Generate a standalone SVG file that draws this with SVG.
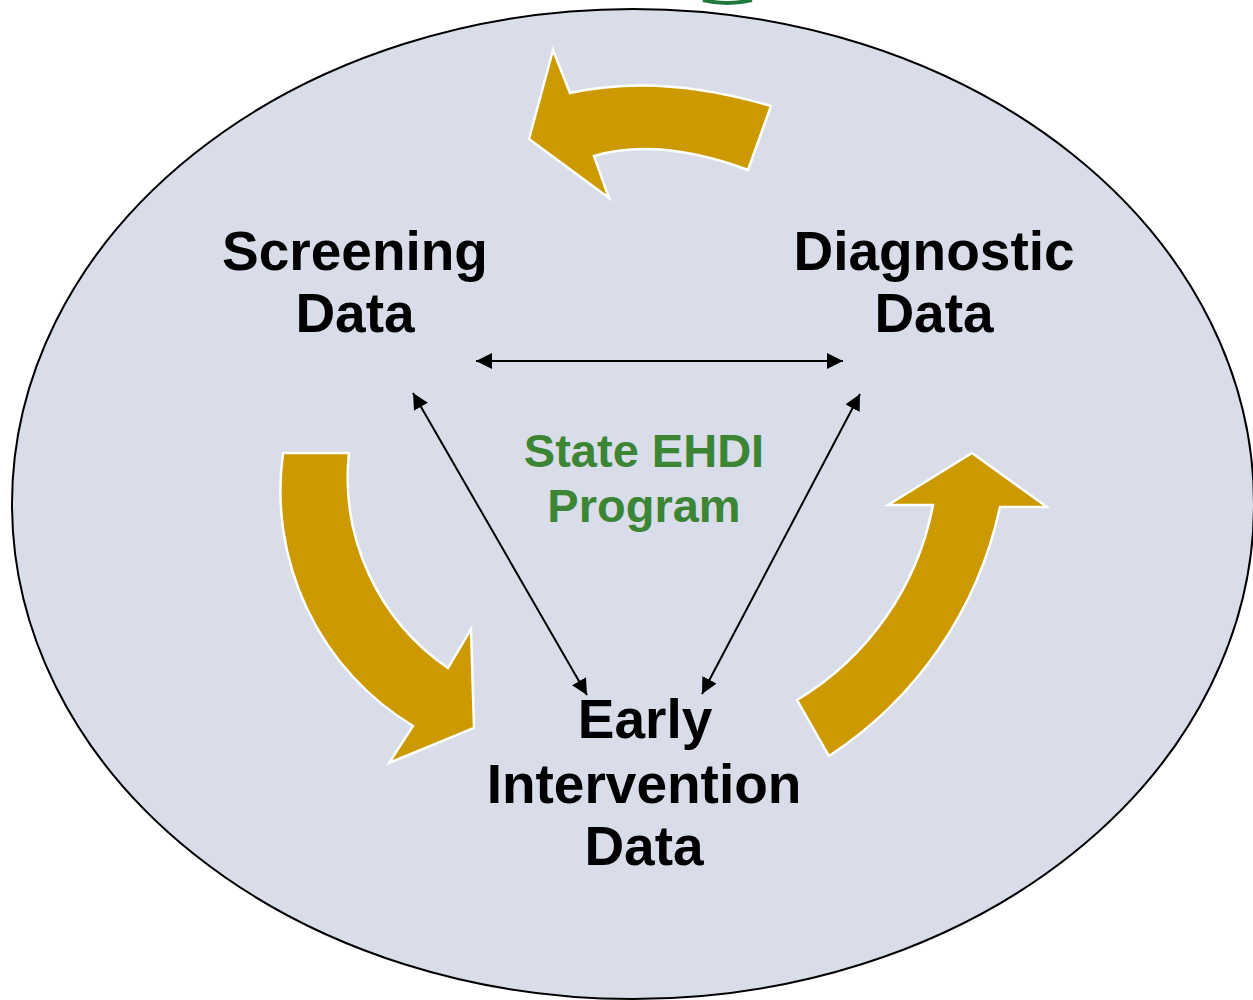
<svg xmlns="http://www.w3.org/2000/svg" width="1253" height="1000" viewBox="0 0 1253 1000">
  <style>
    .lbl { font-family: "Liberation Sans", Arial, sans-serif; font-weight: bold; font-size: 55px; fill: #000; text-anchor: middle; }
    .prog { font-family: "Liberation Sans", Arial, sans-serif; font-weight: bold; font-size: 47px; fill: #3b8534; text-anchor: middle; }
    .cyc { fill: #CC9900; stroke: #FFFFFF; stroke-width: 2.5; stroke-linejoin: miter; }
    .con { stroke: #000; stroke-width: 2; fill: none; marker-start: url(#ah); marker-end: url(#ah); }
  </style>
  <defs>
    <marker id="ah" viewBox="0 0 16 16" refX="16" refY="8" markerWidth="16" markerHeight="16" markerUnits="userSpaceOnUse" orient="auto-start-reverse">
      <path d="M0,0 L16,8 L0,16 Z" fill="#000"/>
    </marker>
  </defs>
  <rect width="1253" height="1000" fill="#FFFFFF"/>
  <path d="M 703 0 Q 727 6 752 0" fill="none" stroke="#1e7a3c" stroke-width="4"/>
  <g id="program-ellipse">
    <ellipse cx="633" cy="504" rx="621" ry="495" fill="#D9DDE9" stroke="#000" stroke-width="2"/>
  </g>
  <g id="cycle-arrows">
    <path class="cyc" d="M 553 50 L 570 93 Q 660 73 771 106 L 748 170 Q 659 137 594 156 L 609 198 L 529 139 Z"/>
    <path class="cyc" d="M 283 453 L 349 453 A 231 231 0 0 0 448 668 L 471 629 L 474 728 L 389 763 L 413 726 A 275 275 0 0 1 283 453 Z"/>
    <path class="cyc" d="M 797 700 L 829 756 A 397 397 0 0 0 1000 507 L 1047 507 L 972 453 L 888 505 L 933 505 A 290 290 0 0 1 797 700 Z"/>
  </g>
  <g id="connectors">
    <line class="con" x1="476" y1="361" x2="843" y2="361"/>
    <line class="con" x1="413" y1="393" x2="587" y2="695"/>
    <line class="con" x1="860" y1="394" x2="702" y2="694"/>
  </g>
  <g id="screening">
    <text class="lbl" x="355" y="270">Screening</text>
    <text class="lbl" x="355" y="332">Data</text>
  </g>
  <g id="diagnostic">
    <text class="lbl" x="934" y="270">Diagnostic</text>
    <text class="lbl" x="934" y="332">Data</text>
  </g>
  <g id="early-intervention">
    <text class="lbl" x="645" y="738">Early</text>
    <text class="lbl" x="644" y="803">Intervention</text>
    <text class="lbl" x="644" y="865">Data</text>
  </g>
  <g id="state-program">
    <text class="prog" x="644" y="467">State EHDI</text>
    <text class="prog" x="644" y="522">Program</text>
  </g>
</svg>
